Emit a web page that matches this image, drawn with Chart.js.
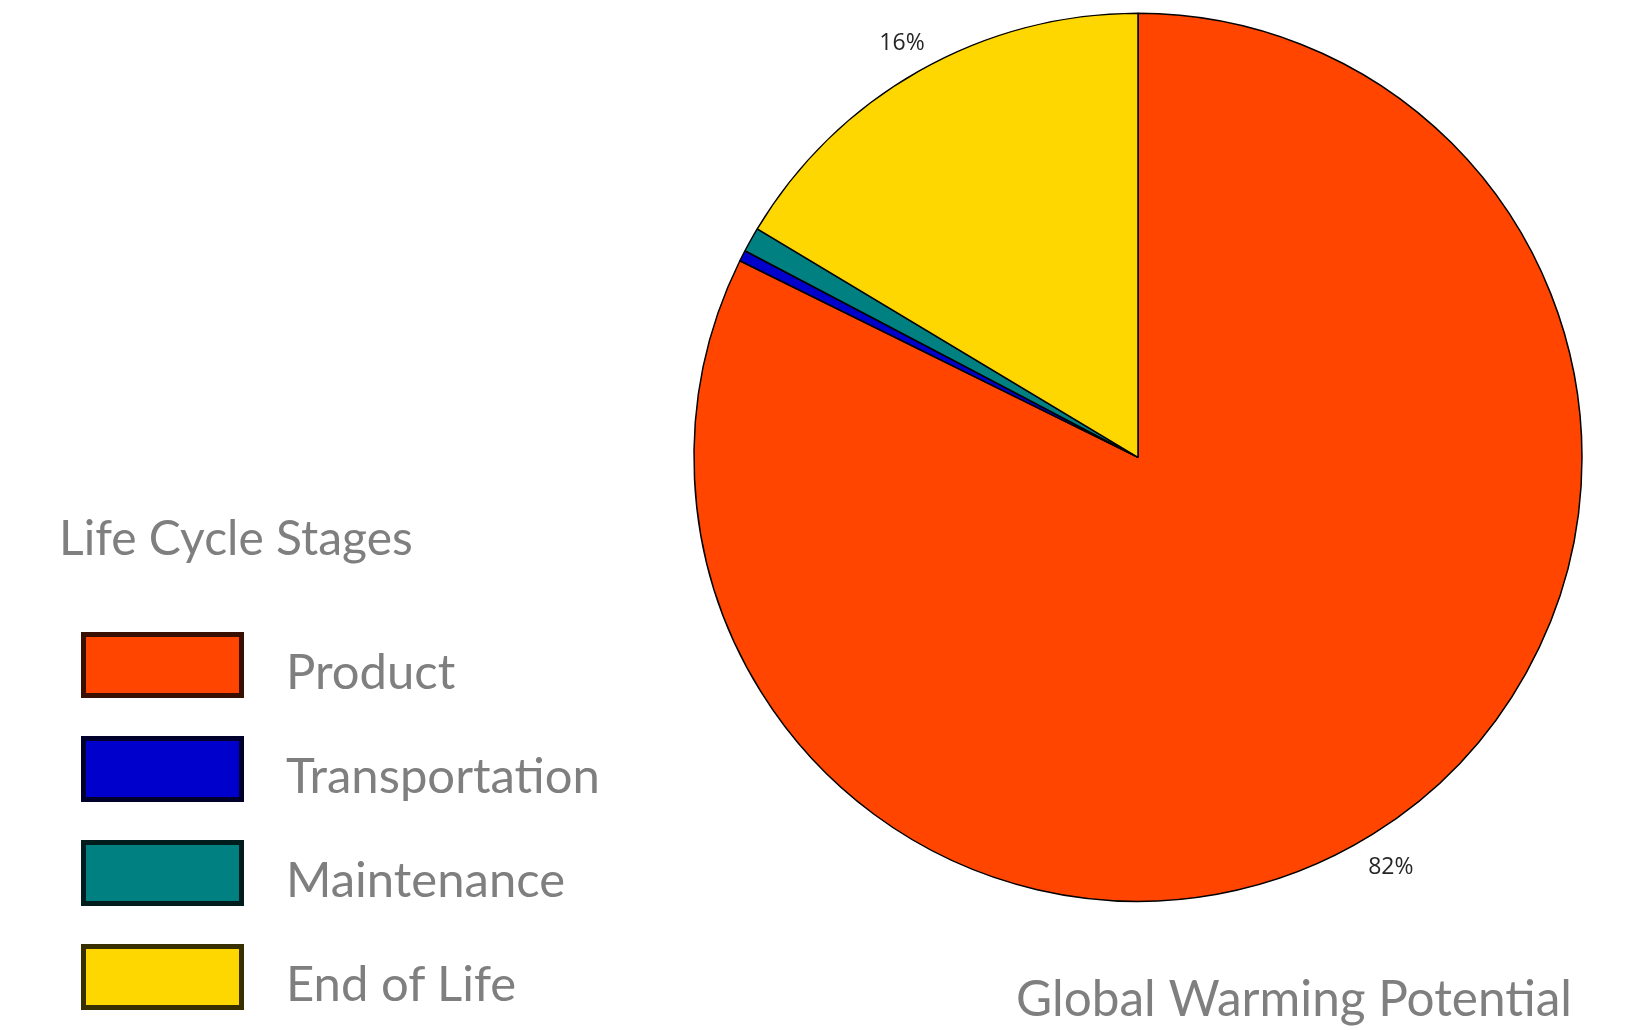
<!DOCTYPE html>
<html>
<head>
<meta charset="utf-8">
<script src="https://cdn.jsdelivr.net/npm/chart.js@4/dist/chart.umd.min.js"></script>
<style>
    html, body { margin: 0; padding: 0; background: #fff; }
    .Stage { position: relative; width: 1634px; height: 1030px; overflow: hidden; }
    .Stage canvas { position: absolute; left: 0; top: 0; }
    .Stage__legend { position: absolute; left: 59px; top: 508px; font-family: Lato, "Open Sans", sans-serif; color: #7f7f7f; }
    .Stage__legend-title { font-size: 48px; line-height: 58px; white-space: nowrap; }
    .Stage__legend-list { margin-top: 66px; }
    .Stage__legend-item { display: flex; align-items: center; height: 66px; margin-bottom: 38px; margin-left: 22px; }
    .Stage__legend-box { box-sizing: border-box; width: 163px; height: 66px; border: 5px solid rgba(0, 0, 0, 0.78); }
    .Stage__legend-text { margin-left: 42px; padding-top: 9px; font-size: 49px; line-height: 58px; white-space: nowrap; }
</style>
</head>
<body>
<div class="Stage">
    <canvas id="gwp" width="1634" height="1030"></canvas>
    <div class="Stage__legend" id="gwp-legend"></div>
</div>
<script>
const stages = ['Product', 'Transportation', 'Maintenance', 'End of Life']
const gwpShare = [82.3, 0.4, 0.9, 16.4]
const stageColors = ['#FF4500', '#0000CD', '#008080', '#FFD700']

const legendTitle = 'Life Cycle Stages'
const chartTitle = 'Global Warming Potential'

// percent labels outside the slices, small ones are skipped
const percentLabels = {
    id: 'percentLabels',
    afterDatasetsDraw(chart) {
        const ctx = chart.ctx
        const data = chart.data.datasets[0].data
        const total = data.reduce((a, b) => a + b, 0)
        const arcs = chart.getDatasetMeta(0).data

        ctx.save()
        ctx.font = '23px "Open Sans", sans-serif'
        ctx.fillStyle = '#262626'
        ctx.textAlign = 'center'
        ctx.textBaseline = 'middle'
        for(let i = 0; i < arcs.length; i++) {
            const pct = data[i] / total * 100
            if(pct < 5) continue
            const arc = arcs[i]
            const mid = (arc.startAngle + arc.endAngle) / 2
            const r = arc.outerRadius + 35
            ctx.fillText(Math.round(pct) + '%', arc.x + Math.cos(mid) * r, arc.y + Math.sin(mid) * r + 3)
        }
        ctx.restore()
    }
}

class StageLegend {
    constructor(chart, el) {
        this.chart = chart
        this.el = el
    }

    items() {
        return this.chart.options.plugins.legend.labels.generateLabels(this.chart)
    }

    render() {
        let rows = ''
        const items = this.items()
        for(let i = 0; i < items.length; i++) {
            rows += (`
                <div class="Stage__legend-item">
                    <div class="Stage__legend-box" style="background-color: ${items[i].fillStyle}"></div>
                    <div class="Stage__legend-text">${items[i].text}</div>
                </div>
            `)
        }
        this.el.innerHTML = (`
            <div class="Stage__legend-title">${legendTitle}</div>
            <div class="Stage__legend-list">${rows}</div>
        `)
    }
}

const chart = new Chart(document.getElementById('gwp'), {
    type: 'pie',
    data: {
        labels: stages,
        datasets: [{
            data: gwpShare,
            backgroundColor: stageColors,
            borderColor: '#000',
            borderWidth: 1.5
        }]
    },
    options: {
        responsive: false,
        animation: false,
        events: [],
        radius: 444,
        layout: { padding: { left: 704, right: 62, top: 17, bottom: 0 } },
        plugins: {
            legend: { display: false },
            tooltip: { enabled: false },
            title: {
                display: true,
                text: chartTitle,
                position: 'bottom',
                align: 'end',
                color: '#7f7f7f',
                font: { family: 'Lato', size: 49.5, weight: 'normal', lineHeight: 1.2 },
                padding: { top: 73, bottom: 0 }
            }
        }
    },
    plugins: [percentLabels]
})

new StageLegend(chart, document.getElementById('gwp-legend')).render()
</script>
</body>
</html>
